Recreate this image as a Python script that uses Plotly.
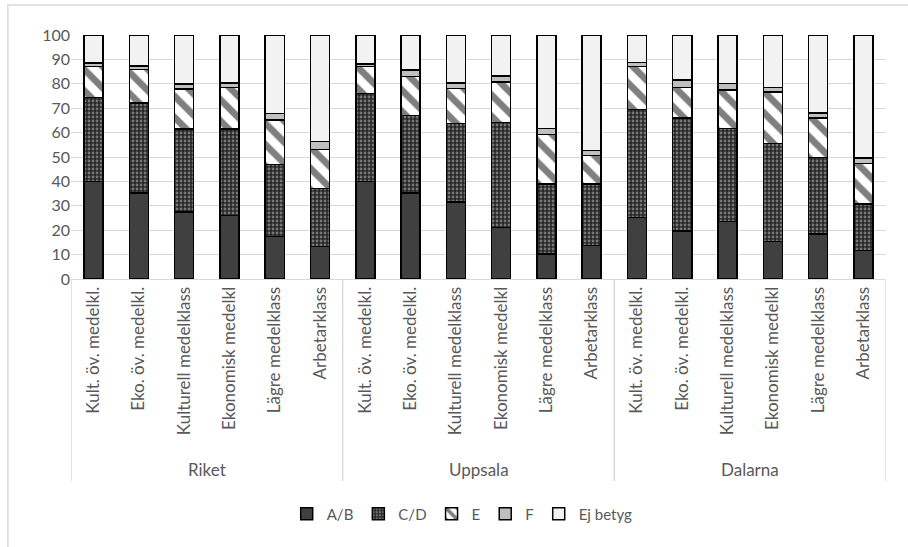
import plotly.graph_objects as go

# Regions and social-class categories
regions = ["Riket", "Uppsala", "Dalarna"]
classes = ["Kult. öv. medelkl.", "Eko. öv. medelkl.", "Kulturell medelklass",
           "Ekonomisk medelkl", "Lägre medelklass", "Arbetarklass"]

# Share (%) of pupils per grade band, in order Riket x6, Uppsala x6, Dalarna x6
ab = [40.0, 35.2, 27.4, 26.0, 17.4, 13.3,
      39.9, 35.2, 31.6, 21.2, 10.3, 13.7,
      25.3, 19.6, 23.6, 15.3, 18.5, 11.6]
cd = [34.4, 37.0, 34.1, 35.5, 29.6, 23.7,
      36.1, 31.9, 32.1, 43.0, 28.7, 25.3,
      44.2, 46.4, 38.0, 40.2, 31.2, 19.2]
e = [12.6, 13.7, 16.3, 16.9, 18.1, 16.0,
     11.0, 15.8, 14.4, 16.6, 20.2, 11.7,
     17.5, 12.4, 15.8, 21.2, 16.3, 16.5]
f = [1.6, 1.4, 2.2, 1.9, 2.7, 3.3,
     1.1, 2.7, 2.3, 2.4, 2.4, 2.0,
     1.8, 3.1, 2.7, 1.7, 2.1, 2.2]
ej = [round(100 - a - b - c - d, 1) for a, b, c, d in zip(ab, cd, e, f)]

# Unique category keys (region + class); only the class name is shown as tick text
keys = [f"{r}|{c}" for r in regions for c in classes]
tick_text = classes * len(regions)

TEXT = "#595959"
GRID = "#d9d9d9"
FONT = "Lato"

series = [
    ("A/B", ab, dict(color="#404040")),
    ("C/D", cd, dict(color="#2b2b2b",
                     pattern=dict(shape=".", fgcolor="#c8c8c8", bgcolor="#262626",
                                  size=4, solidity=0.4))),
    ("E", e, dict(color="#000000",
                  pattern=dict(shape="\\", fgcolor="#000000", bgcolor="#ffffff",
                               size=15, solidity=0.45))),
    ("F", f, dict(color="#bfbfbf")),
    ("Ej betyg", ej, dict(color="#f2f2f2")),
]

fig = go.Figure()
for name, vals, marker in series:
    marker = dict(marker, line=dict(color="#000000", width=1.5))
    fig.add_trace(go.Bar(name=name, x=keys, y=vals, marker=marker))

# Group dividers below the axis and region labels
n = len(classes)
shapes = []
for i in range(len(regions) + 1):
    xpos = i * n - 0.5
    shapes.append(dict(type="line", xref="x", yref="paper", x0=xpos, x1=xpos,
                       y0=0, y1=-0.828, line=dict(color=GRID, width=1.5)))
annotations = []
for i, r in enumerate(regions):
    annotations.append(dict(text=r, xref="x", yref="paper", x=i * n + (n - 1) / 2,
                            y=-0.7787, showarrow=False, yanchor="middle",
                            font=dict(family=FONT, size=17, color=TEXT)))

# Light outer chart frame
shapes.append(dict(type="rect", xref="paper", yref="paper", x0=-0.0775, x1=1.05,
                   y0=-1.15, y1=1.123, line=dict(color=GRID, width=1.5),
                   fillcolor="rgba(0,0,0,0)", layer="below"))

fig.update_layout(
    barmode="stack",
    bargap=0.58,
    width=908, height=547,
    margin=dict(l=70.7, r=22.3, t=35, b=268),
    paper_bgcolor="#ffffff",
    plot_bgcolor="#ffffff",
    font=dict(family=FONT, size=16, color=TEXT),
    showlegend=True,
    legend=dict(orientation="h", x=0.48, xanchor="center", y=-0.963, yanchor="middle",
                font=dict(size=15, color=TEXT), itemwidth=30, traceorder="normal"),
    xaxis=dict(type="category", tickmode="array", tickvals=keys, ticktext=tick_text,
               tickangle=-90, showline=True, linecolor=GRID, linewidth=1,
               showgrid=False, ticks="", range=[-0.5, len(keys) - 0.5],
               tickfont=dict(family=FONT, size=17, color=TEXT)),
    yaxis=dict(range=[0, 100], dtick=10, showgrid=True, gridcolor=GRID, gridwidth=1,
               zeroline=False, showline=False, ticks="",
               tickfont=dict(family=FONT, size=16, color=TEXT)),
    shapes=shapes,
    annotations=annotations,
)

fig.write_html("out.html")
